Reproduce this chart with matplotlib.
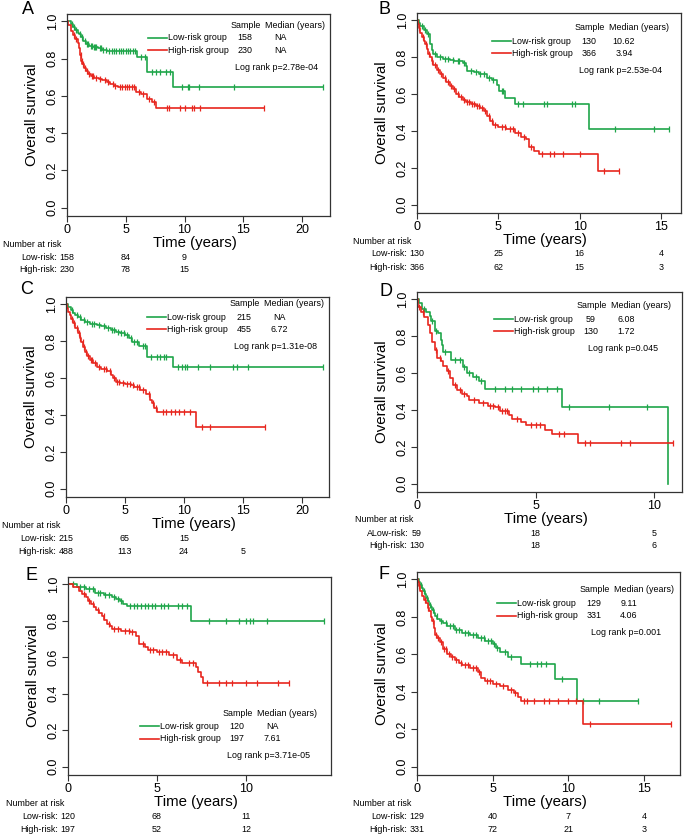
import numpy as np
import matplotlib
matplotlib.use("Agg")
import matplotlib.pyplot as plt
import matplotlib.transforms as mtransforms
from matplotlib.lines import Line2D

plt.rcParams['font.family'] = ['Liberation Sans', 'DejaVu Sans']

W, H = 685, 838
GREEN = '#1fa64a'
RED = '#e8261e'
FRAME = '#333333'

# ---------------- data ----------------
# Panel A
A_low_t = [0.3, 0.5, 0.7, 0.9, 1.0, 1.2, 1.4, 1.6, 1.9, 2.2, 2.6, 3.0, 3.4, 5.95, 6.85, 9.0]
A_low_s = [0.985, 0.97, 0.955, 0.94, 0.93, 0.915, 0.895, 0.88, 0.87, 0.862, 0.855, 0.847, 0.84, 0.81, 0.73, 0.646]
A_low_end = 21.8
A_low_cens = [0.4, 0.6, 0.8, 1.1, 1.3, 1.5, 1.7, 1.8, 2.0, 2.1, 2.3, 2.4, 2.5, 2.8, 2.9, 3.1, 3.3, 3.6, 3.8,
              4.0, 4.2, 4.4, 4.6, 4.8, 5.0, 5.2, 5.4, 5.6, 5.8, 6.3, 6.6, 7.2, 7.6, 7.9, 8.4, 8.8, 9.8, 10.3,
              10.4, 11.2, 14.2, 21.8]
A_high_t = [0.1, 0.3, 0.5, 0.7, 0.9, 1.0, 1.1, 1.2, 1.3, 1.45, 1.6, 1.8, 2.0, 2.3, 2.7, 3.0, 3.4, 3.7, 4.0,
            4.3, 5.9, 6.3, 6.8, 7.2, 7.6]
A_high_s = [0.98, 0.95, 0.925, 0.905, 0.885, 0.86, 0.82, 0.79, 0.77, 0.75, 0.735, 0.72, 0.705, 0.695, 0.69,
            0.683, 0.675, 0.665, 0.655, 0.646, 0.622, 0.612, 0.584, 0.57, 0.533]
A_high_end = 16.8
A_high_cens = [0.6, 0.8, 1.15, 1.25, 1.35, 1.5, 1.7, 1.9, 2.1, 2.2, 2.5, 2.8, 3.2, 3.5, 3.9, 4.1, 4.5, 4.7,
               4.9, 5.1, 5.3, 5.5, 5.7, 6.1, 6.5, 7.0, 7.4, 8.5, 8.7, 9.6, 10.0, 10.6, 10.8, 11.3, 16.8]
A_risk_times = [0, 5, 10]
A_risk_low = [158, 84, 9]
A_risk_high = [230, 78, 15]
A_n = [158, 230]
A_median = ['NA', 'NA']
A_p = 'Log rank p=2.78e-04'

# Panel B
B_low_t = [0.1, 0.2, 0.4, 0.6, 0.8, 0.9, 1.0, 1.2, 1.6, 2.0, 2.3, 2.8, 3.0, 3.1, 3.5, 3.8, 4.3, 4.6, 4.9,
           5.05, 5.4, 6.05, 10.6]
B_low_s = [0.985, 0.967, 0.95, 0.925, 0.87, 0.84, 0.82, 0.80, 0.79, 0.785, 0.78, 0.77, 0.754, 0.728, 0.72,
           0.71, 0.69, 0.674, 0.65, 0.616, 0.58, 0.547, 0.41]
B_low_end = 15.5
B_low_cens = [0.3, 0.5, 0.7, 1.1, 1.4, 1.7, 1.9, 2.2, 2.5, 2.6, 2.9, 3.3, 3.6, 3.9, 4.1, 4.4, 4.7, 5.2, 5.3,
              6.2, 6.5, 7.8, 8.0, 9.5, 9.7, 12.2, 14.6, 15.5]
B_high_t = [0.05, 0.1, 0.2, 0.3, 0.4, 0.5, 0.6, 0.7, 0.8, 0.9, 1.0, 1.2, 1.4, 1.6, 1.8, 2.0, 2.2, 2.4, 2.6,
            2.8, 3.0, 3.3, 3.6, 3.9, 4.1, 4.3, 4.5, 4.7, 5.0, 5.5, 6.0, 6.4, 6.7, 6.9, 7.2, 7.5, 11.1]
B_high_s = [0.98, 0.96, 0.93, 0.91, 0.89, 0.87, 0.845, 0.82, 0.80, 0.78, 0.76, 0.73, 0.71, 0.685, 0.665,
            0.645, 0.625, 0.60, 0.585, 0.57, 0.558, 0.545, 0.535, 0.525, 0.51, 0.48, 0.455, 0.435, 0.424,
            0.41, 0.39, 0.37, 0.355, 0.315, 0.29, 0.274, 0.181]
B_high_end = 12.4
B_high_cens = [0.15, 0.35, 0.55, 0.75, 0.95, 1.1, 1.3, 1.5, 1.7, 1.9, 2.1, 2.3, 2.5, 2.7, 2.9, 3.1, 3.2,
               3.4, 3.5, 3.7, 3.8, 4.0, 4.2, 4.4, 4.6, 4.8, 5.2, 5.4, 5.7, 5.9, 6.2, 6.6, 7.0, 7.7, 8.2,
               8.4, 9.0, 10.0, 11.5, 12.4]
B_risk_times = [0, 5, 10, 15]
B_risk_low = [130, 25, 16, 4]
B_risk_high = [366, 62, 15, 3]
B_n = [130, 366]
B_median = ['10.62', '3.94']
B_p = 'Log rank p=2.53e-04'

# Panel C
C_low_t = [0.2, 0.4, 0.6, 0.8, 1.0, 1.3, 1.6, 2.0, 2.6, 3.0, 3.4, 3.8, 4.2, 4.6, 5.0, 5.3, 5.6, 6.2, 6.9, 9.1]
C_low_s = [0.985, 0.97, 0.955, 0.94, 0.93, 0.915, 0.905, 0.896, 0.89, 0.883, 0.87, 0.86, 0.85, 0.843,
           0.833, 0.815, 0.797, 0.775, 0.716, 0.662]
C_low_end = 21.8
C_low_cens = [0.5, 0.9, 1.2, 1.5, 1.8, 2.2, 2.4, 2.8, 3.2, 3.6, 3.9, 4.1, 4.4, 4.7, 4.9, 5.2, 5.5, 5.8, 6.0,
              6.5, 6.7, 7.2, 7.7, 8.0, 8.3, 8.5, 9.5, 9.8, 10.1, 10.3, 11.2, 12.2, 14.2, 14.5, 15.4, 21.8]
C_high_t = [0.1, 0.2, 0.3, 0.45, 0.6, 0.8, 1.0, 1.15, 1.3, 1.45, 1.6, 1.8, 2.0, 2.3, 2.6, 3.0, 3.5, 3.8,
            4.0, 4.2, 4.6, 5.0, 5.5, 5.8, 6.3, 6.8, 7.1, 7.3, 7.5, 7.7, 11.0]
C_high_s = [0.98, 0.96, 0.94, 0.92, 0.9, 0.87, 0.845, 0.82, 0.797, 0.77, 0.743, 0.72, 0.698, 0.68, 0.662,
            0.65, 0.638, 0.617, 0.6, 0.58, 0.572, 0.567, 0.56, 0.554, 0.536, 0.512, 0.482, 0.464, 0.437,
            0.415, 0.335]
C_high_end = 16.9
C_high_cens = [0.5, 0.7, 0.9, 1.1, 1.2, 1.4, 1.5, 1.7, 1.9, 2.1, 2.2, 2.5, 2.8, 3.2, 3.4, 3.7, 4.1, 4.3,
               4.5, 4.8, 5.2, 5.4, 5.7, 6.0, 6.2, 6.5, 7.0, 7.4, 7.6, 8.2, 8.5, 8.9, 9.2, 9.6, 10.0, 10.5,
               11.5, 12.2, 16.9]
C_risk_times = [0, 5, 10, 15]
C_risk_low = [215, 65, 15, None]
C_risk_high = [488, 113, 24, 5]
C_n = [215, 455]
C_median = ['NA', '6.72']
C_p = 'Log rank p=1.31e-08'

# Panel D
D_low_t = [0.1, 0.2, 0.4, 0.55, 0.6, 0.75, 0.9, 1.0, 1.05, 1.1, 1.45, 1.95, 2.1, 2.35, 2.6, 2.87, 6.1, 10.6]
D_low_s = [0.978, 0.95, 0.933, 0.91, 0.88, 0.83, 0.816, 0.78, 0.753, 0.717, 0.67, 0.634, 0.6, 0.577,
           0.555, 0.515, 0.414, 0.0]
D_low_end = 10.6
D_low_cens = [0.3, 0.65, 0.8, 1.2, 1.6, 1.8, 2.0, 2.2, 2.5, 2.7, 3.3, 3.7, 4.0, 4.4, 4.9, 5.1, 5.5, 5.9,
              6.4, 8.1, 9.7]
D_high_t = [0.05, 0.15, 0.3, 0.45, 0.55, 0.65, 0.75, 0.85, 1.0, 1.1, 1.25, 1.4, 1.5, 1.7, 1.9, 2.1, 2.2,
            2.6, 3.0, 3.3, 3.5, 3.9, 4.0, 4.4, 4.6, 5.4, 5.7, 6.8]
D_high_s = [0.96, 0.933, 0.906, 0.86, 0.816, 0.771, 0.726, 0.68, 0.663, 0.636, 0.609, 0.573, 0.537, 0.51,
            0.488, 0.474, 0.452, 0.438, 0.423, 0.414, 0.393, 0.375, 0.351, 0.333, 0.321, 0.294, 0.267, 0.222]
D_high_end = 10.8
D_high_cens = [0.1, 0.25, 0.8, 0.95, 1.3, 1.6, 1.8, 2.0, 2.4, 2.8, 3.1, 3.2, 3.4, 3.6, 3.7, 3.8, 4.2, 4.8,
               5.0, 5.2, 6.0, 6.2, 7.1, 7.3, 8.6, 9.0, 10.8]
D_risk_times = [0, 5, 10]
D_risk_low = [59, 18, 5]
D_risk_high = [130, 18, 6]
D_n = [59, 130]
D_median = ['6.08', '1.72']
D_p = 'Log rank p=0.045'

# Panel E
E_low_t = [0.5, 1.0, 1.5, 2.0, 2.5, 2.7, 2.9, 3.1, 3.3, 6.9]
E_low_s = [0.986, 0.973, 0.955, 0.94, 0.933, 0.918, 0.906, 0.891, 0.879, 0.797]
E_low_end = 14.4
E_low_cens = [0.3, 0.7, 0.9, 1.2, 1.4, 1.7, 1.8, 2.1, 2.3, 2.6, 2.8, 3.0, 3.5, 3.7, 3.9, 4.1, 4.3, 4.5, 4.7,
              4.9, 5.2, 5.4, 5.6, 6.2, 6.4, 6.7, 7.9, 8.9, 9.6, 10.0, 10.2, 10.4, 11.2, 14.4]
E_high_t = [0.3, 0.6, 0.8, 1.0, 1.15, 1.3, 1.45, 1.6, 1.75, 1.9, 2.05, 2.2, 2.35, 2.5, 3.0, 3.5, 3.8, 4.0,
            4.3, 4.5, 5.0, 5.7, 6.1, 6.4, 7.2, 7.3, 7.5, 7.6]
E_high_s = [0.987, 0.964, 0.945, 0.928, 0.91, 0.891, 0.875, 0.859, 0.843, 0.828, 0.805, 0.783, 0.77,
            0.755, 0.746, 0.737, 0.719, 0.674, 0.656, 0.641, 0.629, 0.61, 0.583, 0.571, 0.547, 0.52, 0.493,
            0.457]
E_high_end = 12.4
E_high_cens = [0.9, 1.2, 1.4, 1.7, 2.0, 2.3, 2.6, 2.8, 3.2, 3.4, 3.6, 4.2, 4.6, 4.8, 5.1, 5.3, 5.5, 5.9,
               6.3, 6.8, 7.0, 7.8, 8.5, 8.9, 9.2, 10.0, 10.6, 11.8, 12.4]
E_risk_times = [0, 5, 10]
E_risk_low = [120, 68, 11]
E_risk_high = [197, 52, 12]
E_n = [120, 197]
E_median = ['NA', '7.61']
E_p = 'Log rank p=3.71e-05'

# Panel F
F_low_t = [0.1, 0.2, 0.3, 0.4, 0.5, 0.6, 0.7, 0.8, 0.9, 1.0, 1.1, 1.2, 1.35, 1.5, 1.75, 2.0, 2.5, 3.0, 3.5,
           4.0, 4.5, 5.0, 5.2, 5.5, 6.0, 6.9, 9.1, 10.6]
F_low_s = [0.986, 0.973, 0.955, 0.937, 0.92, 0.901, 0.884, 0.866, 0.852, 0.839, 0.82, 0.803, 0.79, 0.776,
           0.765, 0.753, 0.731, 0.713, 0.704, 0.686, 0.672, 0.654, 0.633, 0.615, 0.588, 0.548, 0.468, 0.349]
F_low_end = 14.6
F_low_cens = [0.25, 0.45, 0.65, 0.85, 1.05, 1.3, 1.6, 1.9, 2.2, 2.4, 2.6, 2.8, 3.2, 3.4, 3.7, 3.9, 4.2,
              4.4, 4.7, 4.9, 5.1, 5.3, 5.8, 6.2, 7.5, 7.9, 8.2, 8.5, 9.6, 11.0, 12.0, 14.6]
F_high_t = [0.05, 0.1, 0.2, 0.3, 0.45, 0.6, 0.7, 0.8, 0.9, 1.0, 1.1, 1.2, 1.35, 1.5, 1.7, 2.0, 2.25, 2.5,
            2.75, 3.0, 3.5, 4.0, 4.2, 4.5, 5.0, 5.5, 6.0, 6.4, 6.7, 6.9, 11.0]
F_high_s = [0.985, 0.964, 0.94, 0.91, 0.89, 0.875, 0.85, 0.83, 0.8, 0.776, 0.74, 0.704, 0.685, 0.668,
            0.627, 0.6, 0.585, 0.57, 0.555, 0.543, 0.529, 0.507, 0.471, 0.457, 0.444, 0.43, 0.409, 0.391,
            0.373, 0.349, 0.229]
F_high_end = 16.8
F_high_cens = [0.15, 0.5, 0.75, 1.05, 1.25, 1.4, 1.6, 1.8, 1.9, 2.1, 2.3, 2.6, 2.9, 3.2, 3.4, 3.7, 3.9,
               4.1, 4.6, 4.8, 5.2, 5.7, 6.2, 6.5, 7.1, 7.3, 7.7, 8.4, 8.7, 9.3, 10.0, 10.5, 11.4, 16.8]
F_risk_times = [0, 5, 10, 15]
F_risk_low = [129, 40, 7, 4]
F_risk_high = [331, 72, 21, 3]
F_n = [129, 331]
F_median = ['9.11', '4.06']
F_p = 'Log rank p=0.001'

panels = {
    'A': dict(lt=A_low_t, ls=A_low_s, le=A_low_end, lc=A_low_cens, ht=A_high_t, hs=A_high_s,
              he=A_high_end, hc=A_high_cens, rt=A_risk_times, rl=A_risk_low, rh=A_risk_high,
              n=A_n, med=A_median, p=A_p, lowlab='Low-risk:'),
    'B': dict(lt=B_low_t, ls=B_low_s, le=B_low_end, lc=B_low_cens, ht=B_high_t, hs=B_high_s,
              he=B_high_end, hc=B_high_cens, rt=B_risk_times, rl=B_risk_low, rh=B_risk_high,
              n=B_n, med=B_median, p=B_p, lowlab='Low-risk:'),
    'C': dict(lt=C_low_t, ls=C_low_s, le=C_low_end, lc=C_low_cens, ht=C_high_t, hs=C_high_s,
              he=C_high_end, hc=C_high_cens, rt=C_risk_times, rl=C_risk_low, rh=C_risk_high,
              n=C_n, med=C_median, p=C_p, lowlab='Low-risk:'),
    'D': dict(lt=D_low_t, ls=D_low_s, le=D_low_end, lc=D_low_cens, ht=D_high_t, hs=D_high_s,
              he=D_high_end, hc=D_high_cens, rt=D_risk_times, rl=D_risk_low, rh=D_risk_high,
              n=D_n, med=D_median, p=D_p, lowlab='ALow-risk:'),
    'E': dict(lt=E_low_t, ls=E_low_s, le=E_low_end, lc=E_low_cens, ht=E_high_t, hs=E_high_s,
              he=E_high_end, hc=E_high_cens, rt=E_risk_times, rl=E_risk_low, rh=E_risk_high,
              n=E_n, med=E_median, p=E_p, lowlab='Low-risk:'),
    'F': dict(lt=F_low_t, ls=F_low_s, le=F_low_end, lc=F_low_cens, ht=F_high_t, hs=F_high_s,
              he=F_high_end, hc=F_high_cens, rt=F_risk_times, rl=F_risk_low, rh=F_risk_high,
              n=F_n, med=F_median, p=F_p, lowlab='Low-risk:'),
}

# ---------------- layout (pixels) ----------------
layout = {
    # left, right, top, bottom, xmax, xticks, letter(x,y), legend anchor(x,y), nar x
    'A': (67, 330, 14, 216, 22.38, [0, 5, 10, 15, 20], (28, 10), (148, 38), 3),
    'B': (417, 681, 13, 213, 16.23, [0, 5, 10, 15], (385, 10), (492, 41), 353),
    'C': (66, 329, 297, 497, 22.3, [0, 5, 10, 15, 20], (27, 290), (147, 317), 2),
    'D': (417, 682, 292, 492, 11.18, [0, 5, 10], (386, 292), (494, 319), 355),
    'E': (68, 331, 577, 775, 14.78, [0, 5, 10], (32, 575), (140, 726), 6),
    'F': (417, 680, 572, 775, 17.38, [0, 5, 10, 15], (384, 574), (497, 603), 353),
}

fig = plt.figure(figsize=(W / 100, H / 100), dpi=100)


def fx(px):
    return px / W


def fy(py):
    return 1 - py / H


def step_xy(t, s, end):
    xs = np.array([0.0] + list(t) + [end])
    ys = np.array([1.0] + list(s) + [s[-1]])
    return xs, ys


def surv_at(t, s, c):
    tt = np.array([0.0] + list(t))
    ss = np.array([1.0] + list(s))
    idx = np.searchsorted(tt, np.array(c), side='right') - 1
    return ss[idx]


SMALL = 6.4
for key, d in panels.items():
    L, R, T, B, xmax, xticks, letter, anchor, narx = layout[key]
    ax = fig.add_axes([fx(L), fy(B), fx(R - L), (B - T) / H])
    for col, t, s, e, c in [(GREEN, d['lt'], d['ls'], d['le'], d['lc']),
                            (RED, d['ht'], d['hs'], d['he'], d['hc'])]:
        xs, ys = step_xy(t, s, e)
        ax.step(xs, ys, where='post', color=col, lw=1.2)
        ax.plot(c, surv_at(t, s, c), ls='none', marker='|', ms=5, mew=0.9, color=col)
    ax.set_xlim(0, xmax)
    ax.set_ylim(-0.045, 1.04)
    ax.set_xticks(xticks)
    ax.set_yticks([0, 0.2, 0.4, 0.6, 0.8, 1.0])
    ax.set_yticklabels(['0.0', '0.2', '0.4', '0.6', '0.8', '1.0'])
    ax.tick_params(axis='both', labelsize=9, length=4, width=0.8, color=FRAME, pad=2)
    ax.tick_params(axis='y', labelrotation=90, pad=2)
    for lab in ax.get_yticklabels():
        lab.set_va('center')
    for sp in ax.spines.values():
        sp.set_color(FRAME)
        sp.set_linewidth(0.9)

    # axis titles
    cx = (L + R) / 2 - 4
    fig.text(fx(cx), fy(B + 27), 'Time (years)', ha='center', va='center', fontsize=10.8)
    fig.text(fx(L - 35), fy((T + B) / 2), 'Overall survival', ha='center', va='center',
             fontsize=10.8, rotation=90)
    # panel letter
    fig.text(fx(letter[0]), fy(letter[1]), key, ha='center', va='center', fontsize=13)

    # legend block
    lx, ly = anchor
    fig.text(fx(lx + 98), fy(ly - 13), 'Sample', ha='center', va='center', fontsize=SMALL)
    fig.text(fx(lx + 117), fy(ly - 13), 'Median (years)', ha='left', va='center', fontsize=SMALL)
    for i, (col, name) in enumerate([(GREEN, 'Low-risk group'), (RED, 'High-risk group')]):
        yy = ly + 12.5 * i
        fig.add_artist(Line2D([fx(lx), fx(lx + 19)], [fy(yy), fy(yy)], color=col, lw=1.2))
        fig.text(fx(lx + 20), fy(yy), name, ha='left', va='center', fontsize=SMALL)
        fig.text(fx(lx + 97), fy(yy), str(d['n'][i]), ha='center', va='center', fontsize=SMALL)
        fig.text(fx(lx + 132), fy(yy), d['med'][i], ha='center', va='center', fontsize=SMALL)
    fig.text(fx(lx + 129), fy(ly + 29.5), d['p'], ha='center', va='center', fontsize=SMALL)

    # number at risk table
    fig.text(fx(narx), fy(B + 28), 'Number at risk', ha='left', va='center', fontsize=SMALL)
    base = ax.get_xaxis_transform()
    for row, (lab, vals) in enumerate([(d['lowlab'], d['rl']), ('High-risk:', d['rh'])]):
        dy = -(41 + 13 * row)
        tr = mtransforms.offset_copy(base, fig=fig, x=0, y=dy, units='dots')
        for tx, v in zip(d['rt'], vals):
            if v is None:
                continue
            ax.text(tx, 0, str(v), transform=tr, ha='center', va='center', fontsize=SMALL,
                    clip_on=False)
        w0 = len(str(vals[0])) * 4.9
        trl = mtransforms.offset_copy(base, fig=fig, x=-(w0 / 2 + 3), y=dy, units='dots')
        ax.text(0, 0, lab, transform=trl, ha='right', va='center', fontsize=SMALL, clip_on=False)

fig.savefig('out.png', dpi=100)
